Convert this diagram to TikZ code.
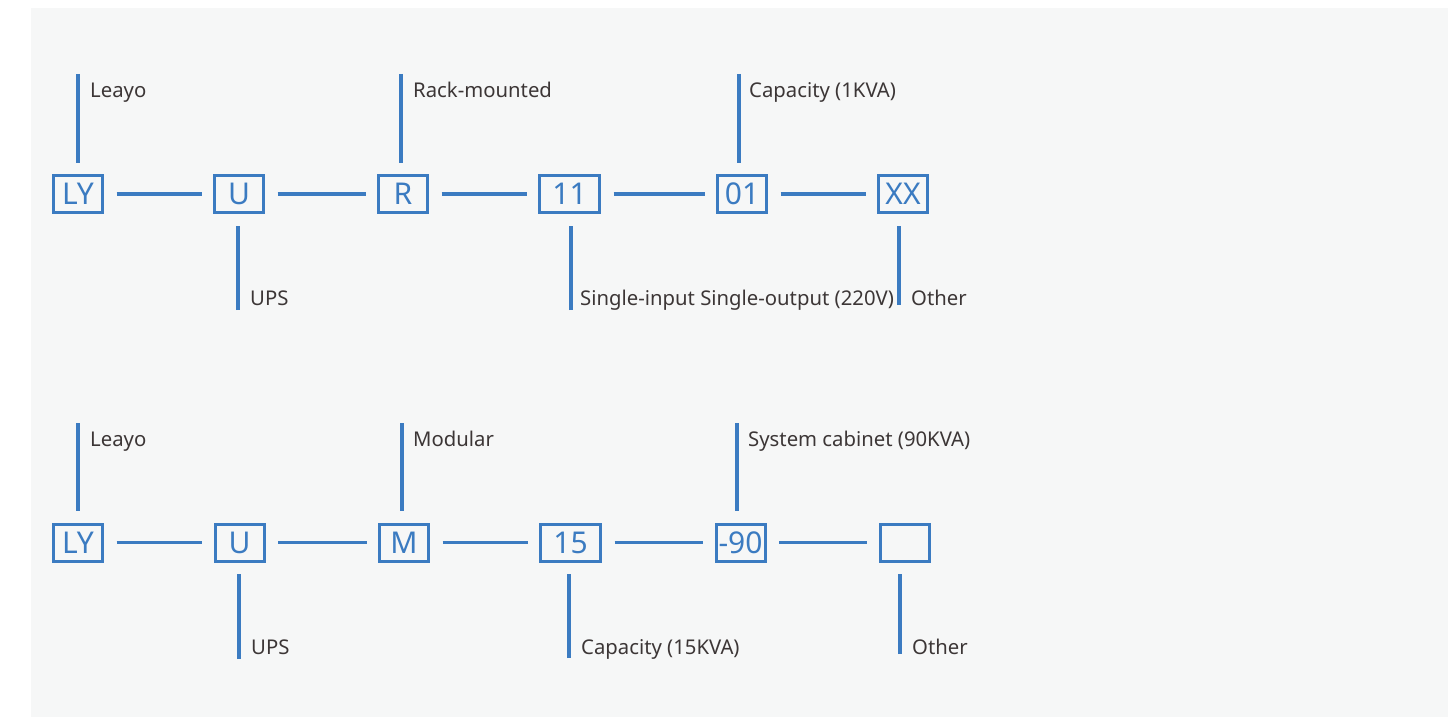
\documentclass[tikz,border=0pt]{standalone}
\usepackage{fontspec}
\setmainfont{Noto Sans}
\definecolor{lineblue}{RGB}{59,123,193}
\definecolor{labelgray}{RGB}{60,54,54}
\definecolor{panelbg}{RGB}{246,247,247}
\begin{document}
\begin{tikzpicture}[x=1pt,y=-1pt,
  codebox/.style={draw=lineblue,line width=3pt,minimum height=37pt,minimum width=49pt,inner sep=0pt,text=lineblue,font=\fontsize{30}{30}\selectfont},
  widebox/.style={minimum width=60pt},
  conn/.style={draw=lineblue,line width=3.2pt,shorten <=12.5pt,shorten >=11.5pt},
  lead/.style={draw=lineblue,line width=3.2pt,shorten >=11.5pt},
  lbl/.style={text=labelgray,font=\fontsize{20.3}{20.3}\selectfont,anchor=base west,inner sep=0pt}]
\useasboundingbox (0,0) rectangle (1448,717);
\fill[panelbg] (31,8) rectangle (1448,717);

% ---------- row 1 ----------
\node[codebox] (ly1) at (78,194) {LY};
\node[codebox] (u1) at (239,194) {U};
\node[codebox] (r1) at (403,194) {R};
\node[codebox,widebox] (n111) at (569.5,194) {11};
\node[codebox] (n011) at (742,194) {01};
\node[codebox] (xx1) at (903,194) {XX};
\draw[conn] (ly1) -- (u1);
\draw[conn] (u1) -- (r1);
\draw[conn] (r1) -- (n111);
\draw[conn] (n111) -- (n011);
\draw[conn] (n011) -- (xx1);

\coordinate (ly1t) at (78,74);
\coordinate (r1t) at (401,74);
\coordinate (n011t) at (739,74);
\coordinate (u1b) at (238,310);
\coordinate (n111b) at (571,310);
\coordinate (xx1b) at (899,305);
\draw[lead] (ly1t) -- (ly1t |- ly1.north);
\draw[lead] (r1t) -- (r1t |- r1.north);
\draw[lead] (n011t) -- (n011t |- n011.north);
\draw[lead] (u1b) -- (u1b |- u1.south);
\draw[lead] (n111b) -- (n111b |- n111.south);
\draw[lead] (xx1b) -- (xx1b |- xx1.south);

\node[lbl] (l1) at (90,97) {Leayo};
\node[lbl] (l2) at (413,97) {Rack-mounted};
\node[lbl] (l3) at (749,97) {Capacity (1KVA)};
\node[lbl] (l4) at (250,305) {UPS};
\node[lbl] (l5) at (580,305) {Single-input Single-output (220V)};
\node[lbl] (l6) at (911,305) {Other};

% ---------- row 2 ----------
\node[codebox] (ly2) at (78,542.5) {LY};
\node[codebox] (u2) at (239.5,542.5) {U};
\node[codebox] (m2) at (404,542.5) {M};
\node[codebox,widebox] (n152) at (570.5,542.5) {15};
\node[codebox] (n902) at (740.5,542.5) {-90};
\node[codebox] (e2) at (904.5,542.5) {};
\draw[conn] (ly2) -- (u2);
\draw[conn] (u2) -- (m2);
\draw[conn] (m2) -- (n152);
\draw[conn] (n152) -- (n902);
\draw[conn] (n902) -- (e2);

\coordinate (ly2t) at (78,423);
\coordinate (m2t) at (402,423);
\coordinate (n902t) at (737,423);
\coordinate (u2b) at (239,659);
\coordinate (n152b) at (569,658);
\coordinate (e2b) at (900,654);
\draw[lead] (ly2t) -- (ly2t |- ly2.north);
\draw[lead] (m2t) -- (m2t |- m2.north);
\draw[lead] (n902t) -- (n902t |- n902.north);
\draw[lead] (u2b) -- (u2b |- u2.south);
\draw[lead] (n152b) -- (n152b |- n152.south);
\draw[lead] (e2b) -- (e2b |- e2.south);

\node[lbl] (k1) at (90,446) {Leayo};
\node[lbl] (k2) at (413,446) {Modular};
\node[lbl] (k3) at (748,446) {System cabinet (90KVA)};
\node[lbl] (k4) at (251,654) {UPS};
\node[lbl] (k5) at (581,654) {Capacity (15KVA)};
\node[lbl] (k6) at (912,654) {Other};
\end{tikzpicture}
\end{document}
